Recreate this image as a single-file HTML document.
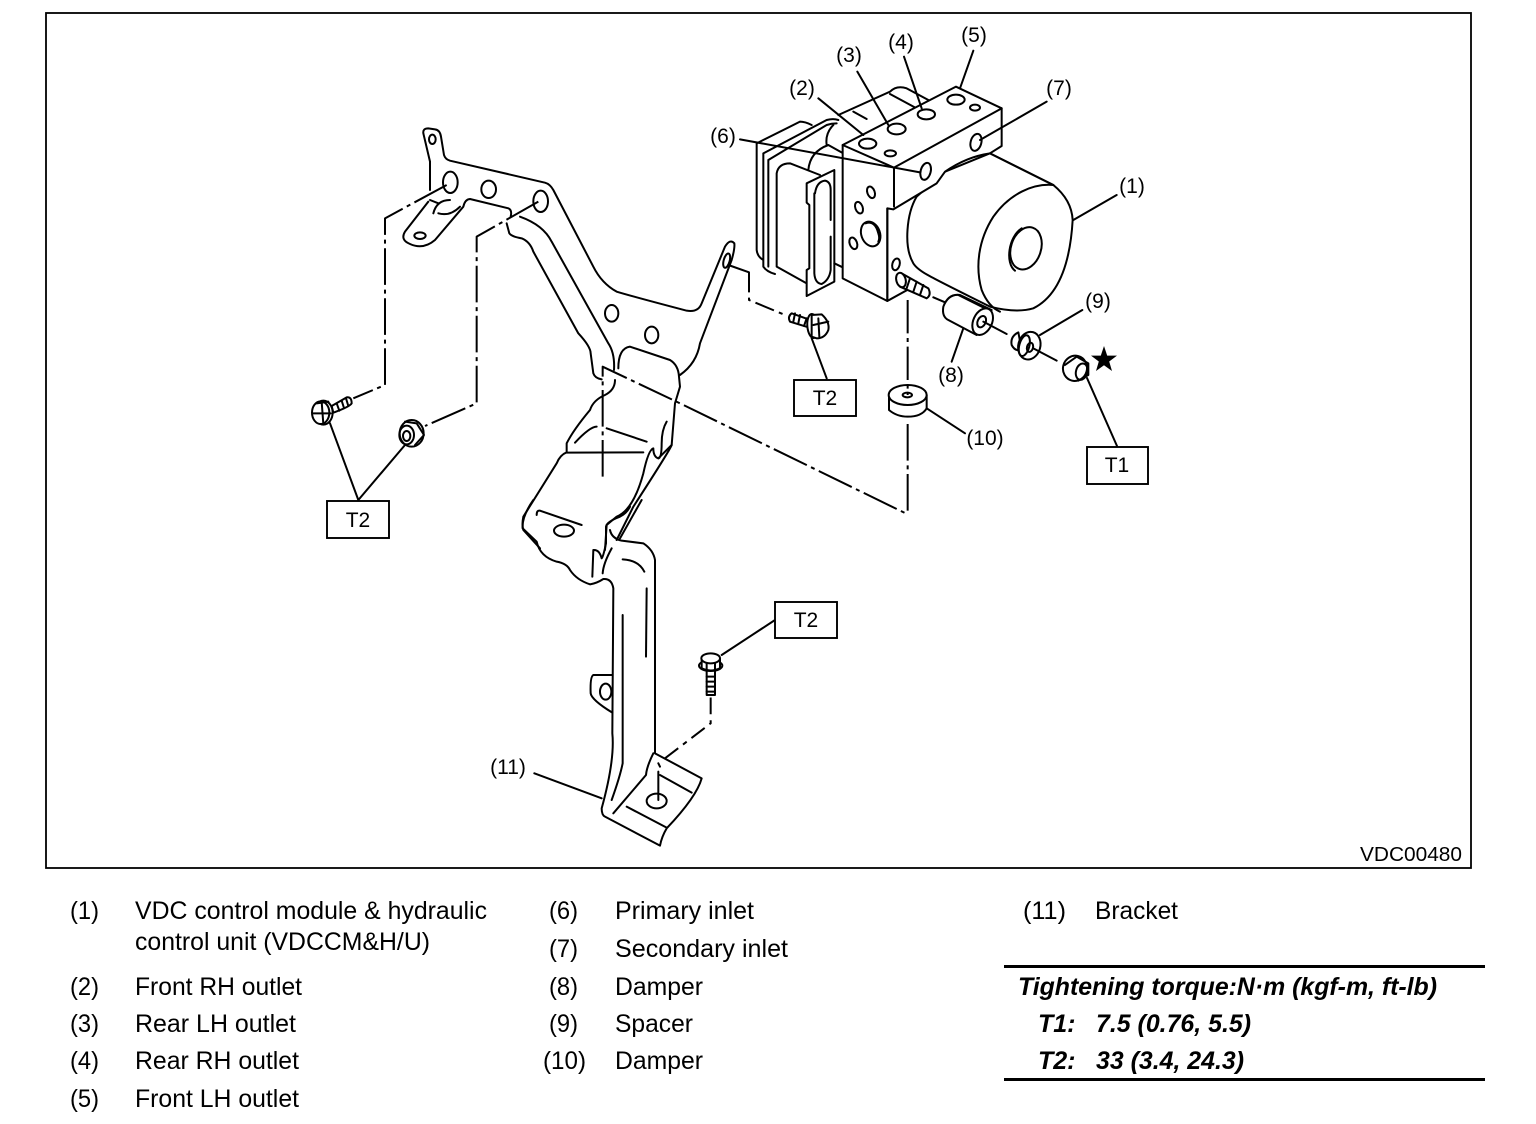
<!DOCTYPE html>
<html><head><meta charset="utf-8"><style>
html,body{margin:0;padding:0;background:#fff}
svg{display:block}
text{font-family:"Liberation Sans",sans-serif;fill:#000}
.l{font-size:21px}
.t{font-size:25px}
.b{font-size:25px;font-weight:bold;font-style:italic}
.d path,.d ellipse,.d line{fill:none;stroke:#000;stroke-width:6;stroke-linecap:round;stroke-linejoin:round}
.d .w{fill:#fff}
.d .da{stroke-dasharray:110 14 12 14;stroke-linecap:butt}
</style></head><body>
<svg width="1536" height="1124" viewBox="0 0 1536 1124" xmlns="http://www.w3.org/2000/svg">
<rect width="1536" height="1124" fill="#fff"/>
<rect x="46" y="13" width="1425" height="855" fill="none" stroke="#000" stroke-width="1.8"/>

<!-- bracket -->
<g class="d" transform="translate(300,120) scale(.33333)">
<path d="M390 125L370 40Q368 25 385 25L405 28Q420 30 423 50L432 105Q436 118 450 122L735 188Q750 192 760 210L880 440Q905 490 950 515Q1000 530 1160 572Q1195 578 1205 550L1275 380Q1290 355 1303 370Q1305 385 1295 420L1200 670Q1190 730 1140 765"/>
<path d="M390 125L390 210M385 245L315 335Q300 360 330 372Q370 390 405 360L490 260Q495 238 510 237L625 265Q637 270 632 290"/>
<path d="M620 310L628 340Q635 350 665 355Q690 365 700 395L835 640Q872 680 872 700L880 760Q885 775 905 778"/>
<path d="M660 290Q730 315 755 365L925 670Q945 700 942 750"/>
<path d="M955 745Q955 685 990 680L1110 720Q1135 735 1137 770L1140 800L1125 850L1115 975L1075 1015Q1060 1010 1060 985Q1045 990 1030 1060Q1000 1170 950 1190L920 1215L915 1290"/>
<path d="M945 780Q945 810 915 825Q880 840 870 870Q820 930 800 970L800 998L1030 997M800 997Q780 1005 770 1030L670 1190Q665 1215 670 1230L720 1285"/>
<path d="M825 968Q870 920 890 920M920 925L1040 965M1100 905Q1085 930 1085 970Q1085 1015 1075 1015M1115 975Q1110 990 1000 1160L950 1260"/>
<path d="M400 280Q410 240 450 240M415 280Q450 290 480 260M390 240L415 250"/>
<ellipse cx="451" cy="187" rx="22" ry="32"/><ellipse cx="566" cy="208" rx="22" ry="26"/><ellipse cx="722" cy="244" rx="22" ry="32"/>
<ellipse cx="360" cy="347" rx="17" ry="10"/><ellipse cx="397" cy="58" rx="10" ry="14"/>
<ellipse cx="935" cy="580" rx="20" ry="25"/><ellipse cx="1055" cy="645" rx="20" ry="25"/>
<ellipse cx="1280" cy="422" rx="9" ry="22" transform="rotate(15 1280 422)"/>
<path class="da" d="M440 195L255 295L255 795L160 835"/>
<path class="da" d="M715 245L530 350L530 850L375 918"/>
<path class="da" d="M908 1070L908 740L1140 850L1821 1182"/>
<!-- left bolt -->
<ellipse class="w" cx="70" cy="878" rx="28" ry="36"/><ellipse class="w" cx="62" cy="878" rx="26" ry="34"/>
<path d="M50 850L85 845M40 880L92 880M65 845L70 912"/>
<path class="w" d="M95 858L140 832Q155 830 155 850Q150 860 100 878Z"/>
<path d="M110 850L118 872M125 842L132 864M138 835L145 858"/>
<!-- nut -->
<ellipse class="w" cx="335" cy="940" rx="36" ry="40"/><ellipse cx="320" cy="945" rx="22" ry="28"/><ellipse cx="320" cy="948" rx="11" ry="15"/>
<path d="M315 905L350 910L372 945L345 975"/>
<path d="M90 910L175 1140L315 975"/>
</g>

<!-- lower bracket -->
<g class="d" transform="translate(480,500) scale(.33333)">
<path d="M128 85Q125 50 160 0M128 85L170 125Q180 170 230 185Q260 190 270 210Q290 240 330 253Q350 250 370 237Q395 235 400 265L397 700Q405 780 365 925Q365 945 375 950L540 1037Q545 1010 560 985Q650 890 665 835L525 760L525 180Q520 150 490 130L425 122Q395 115 390 90"/>
<path d="M378 80Q380 65 420 50Q440 40 450 20M420 115L485 0M378 80L378 130Q370 170 365 175Q358 148 340 150L337 230"/>
<path d="M395 145Q370 190 368 220M428 178Q475 180 493 215M500 265L498 470M428 345L428 790Q420 830 395 900"/>
<path d="M340 525Q330 530 332 580Q335 600 397 638M340 525L397 525"/>
<ellipse cx="377" cy="575" rx="17" ry="24"/>
<path d="M520 760Q500 800 498 825L400 940M540 825L635 878M440 920L560 983"/>
<ellipse cx="530" cy="903" rx="30" ry="22"/>
<path d="M535 815L535 900M535 790L540 800"/>
<path class="da" d="M555 775L692 670L692 590" style="stroke-dasharray:50 18 14 18"/>
<path d="M163 820L365 895M885 360L725 465"/>
<ellipse cx="252" cy="92" rx="30" ry="18"/>
<path d="M170 45Q170 30 180 32L305 75"/>
<!-- bolt -->
<path class="w" d="M680 510L680 585L705 585L705 510Z"/>
<path d="M680 530L705 530M680 545L705 545M680 560L705 560M680 575L705 575"/>
<ellipse class="w" cx="692" cy="497" rx="35" ry="16"/>
<path class="w" d="M665 475L665 505Q692 518 720 505L720 475Z"/>
<ellipse class="w" cx="692" cy="475" rx="28" ry="15"/>
<path d="M680 490L680 512M705 490L705 512"/>
</g>

<!-- module -->
<g class="d" transform="translate(700,20) scale(.33333)">
<!-- housing back -->
<path d="M415 285L570 215Q590 195 620 205L685 240M460 275L500 297M570 222L650 265M380 375Q375 340 400 315M325 450Q330 395 385 375L430 400"/>
<path d="M170 370L300 305Q315 305 335 315M170 370L170 690Q172 710 190 720M190 400L380 300Q400 295 415 300M190 400L190 740Q200 755 225 762M205 420L205 740M205 420L380 315Q395 310 410 310"/>
<path d="M230 460Q235 430 270 430L360 465M230 460L230 740L320 790"/>
<path class="w" d="M320 490L403 450L403 785L320 828L320 750L328 745L328 555L320 548Z"/>
<path d="M345 520Q350 485 375 482Q392 485 392 510L392 600M392 650L392 750Q388 780 365 792Q345 790 343 760L343 520"/>
<path d="M403 730L428 742"/>
<!-- cylinder -->
<path class="w" d="M650 530C620 580 610 680 640 730C655 755 690 770 870 860Q950 880 1000 865C1070 830 1110 740 1118 600Q1115 540 1060 495L870 400L735 455Z"/>
<path d="M1060 495C1000 490 930 520 880 590C835 660 825 740 845 810Q865 860 900 875"/>
<ellipse cx="978" cy="685" rx="45" ry="65" transform="rotate(18 978 685)"/>
<path d="M965 625C925 650 915 730 945 752"/>
<!-- block -->
<path class="w" d="M428 375L768 200L905 265L905 378L870 400Q800 410 735 455L710 490L580 568L562 565L562 843L428 775Z"/>
<path d="M428 375L582 443L905 265M582 443L582 560M562 843L640 800M562 565L562 843"/>
<ellipse cx="503" cy="371" rx="26" ry="15"/><ellipse cx="590" cy="327" rx="27" ry="16"/><ellipse cx="679" cy="283" rx="26" ry="15"/><ellipse cx="768" cy="239" rx="26" ry="15"/>
<ellipse cx="825" cy="263" rx="15" ry="9"/><ellipse cx="571" cy="400" rx="17" ry="9"/>
<ellipse cx="677" cy="454" rx="15" ry="26" transform="rotate(15 677 454)"/><ellipse cx="828" cy="367" rx="16" ry="26" transform="rotate(15 828 367)"/>
<ellipse cx="513" cy="517" rx="11" ry="18" transform="rotate(-20 513 517)"/><ellipse cx="477" cy="563" rx="11" ry="18" transform="rotate(-20 477 563)"/>
<ellipse cx="460" cy="670" rx="11" ry="18" transform="rotate(-20 460 670)"/><ellipse cx="588" cy="733" rx="11" ry="18" transform="rotate(15 588 733)"/>
<ellipse cx="512" cy="642" rx="28" ry="38" transform="rotate(-20 512 642)"/>
<path d="M497 610Q525 600 535 640Q540 655 535 665"/>
<!-- stud -->
<path class="w" d="M605 760L685 805Q695 825 680 835L600 800Z"/>
<ellipse class="w" cx="603" cy="780" rx="14" ry="22" transform="rotate(-15 603 780)"/>
<path d="M630 775L620 805M650 785L640 815M670 795L660 825"/>
<!-- damper 8 -->
<path class="w" d="M730 860Q745 820 780 825L875 870L830 945L745 900Q725 890 730 860Z"/>
<path d="M775 825L865 870"/>
<ellipse class="w" cx="848" cy="905" rx="28" ry="42" transform="rotate(25 848 905)"/>
<ellipse cx="845" cy="905" rx="12" ry="18" transform="rotate(25 845 905)"/>
<!-- spacer 9 -->
<path class="w" d="M955 937Q930 950 935 975Q945 995 965 990Z"/>
<ellipse class="w" cx="988" cy="977" rx="33" ry="42" transform="rotate(15 988 977)"/>
<ellipse cx="973" cy="977" rx="15" ry="32" transform="rotate(15 973 977)"/>
<ellipse cx="990" cy="982" rx="9" ry="14" transform="rotate(15 990 982)"/>
<!-- nut -->
<ellipse class="w" cx="1125" cy="1045" rx="36" ry="38" transform="rotate(15 1125 1045)"/>
<path d="M1095 1035L1130 1010L1165 1030L1165 1065L1135 1082"/>
<ellipse cx="1145" cy="1055" rx="17" ry="25" transform="rotate(15 1145 1055)"/>
<!-- bolt T2 -->
<path class="w" d="M275 880L345 905L335 925L270 905Q262 890 275 880Z"/>
<path d="M285 880L280 905M300 885L295 910M320 895L312 918"/>
<ellipse class="w" cx="338" cy="918" rx="16" ry="36" transform="rotate(-5 338 918)"/>
<path class="w" d="M335 885L365 883Q390 905 385 930Q375 955 350 955L335 950Z"/>
<path d="M340 915L385 905M355 895L358 950"/>
<!-- damper 10 -->
<path class="w" d="M567 1125L567 1170Q590 1190 623 1190Q665 1190 680 1165L680 1125Z"/>
<ellipse class="w" cx="623" cy="1125" rx="57" ry="30"/>
<ellipse cx="622" cy="1125" rx="14" ry="7"/>
<!-- centre lines -->
<path class="da" d="M623 840L623 1125" style="stroke-dasharray:100 14 12 14"/>
<path class="da" d="M623 1212L623 1480" style="stroke-dasharray:110 14 12 14"/>
<path d="M700 832L735 847M850 905L920 942M1000 985L1070 1022"/>
<path d="M85 735L147 757"/>
<path class="da" d="M147 757L147 840L255 885" style="stroke-dasharray:60 16 12 16"/>
<!-- leaders -->
<path d="M355 235L490 345M472 155L565 315M612 110L665 265M820 92L780 205M120 358L660 457M1040 245L840 360M1250 525L1120 600M755 1025L790 925M1147 870L1020 945M1161 1074L1251 1278M335 955L380 1075M680 1165L795 1240"/>
<path d="M870 400L1060 495"/>
</g>

<polygon points="1104,346 1107.2,355.6 1117,355.6 1109.2,361.5 1112,371 1104,365.2 1096,371 1098.8,361.5 1091,355.6 1100.8,355.6" fill="#000"/>

<!-- boxes -->
<g fill="#fff" stroke="#000" stroke-width="1.9">
<rect x="794" y="380" width="62" height="36"/>
<rect x="1087" y="447" width="61" height="37"/>
<rect x="327" y="501" width="62" height="37"/>
<rect x="775" y="602" width="62" height="36"/>
</g>
<g class="l" text-anchor="middle">
<text x="825" y="405">T2</text><text x="1117" y="472">T1</text><text x="358" y="527">T2</text><text x="806" y="627">T2</text>
<text x="1132" y="193">(1)</text><text x="802" y="95">(2)</text><text x="849" y="62">(3)</text><text x="901" y="49">(4)</text><text x="974" y="42">(5)</text>
<text x="723" y="143">(6)</text><text x="1059" y="95">(7)</text><text x="951" y="382">(8)</text><text x="1098" y="308">(9)</text><text x="985" y="445">(10)</text><text x="508" y="774">(11)</text>
</g>
<text x="1360" y="861" font-size="20" textLength="102" lengthAdjust="spacingAndGlyphs">VDC00480</text>

<!-- legend -->
<g class="t" lengthAdjust="spacingAndGlyphs">
<text x="70" y="919" textLength="29" lengthAdjust="spacingAndGlyphs">(1)</text><text x="135" y="919" textLength="352" lengthAdjust="spacingAndGlyphs">VDC control module &amp; hydraulic</text>
<text x="135" y="950" textLength="295" lengthAdjust="spacingAndGlyphs">control unit (VDCCM&amp;H/U)</text>
<text x="70" y="995" textLength="29" lengthAdjust="spacingAndGlyphs">(2)</text><text x="135" y="995" textLength="167" lengthAdjust="spacingAndGlyphs">Front RH outlet</text>
<text x="70" y="1032" textLength="29" lengthAdjust="spacingAndGlyphs">(3)</text><text x="135" y="1032" textLength="161" lengthAdjust="spacingAndGlyphs">Rear LH outlet</text>
<text x="70" y="1069" textLength="29" lengthAdjust="spacingAndGlyphs">(4)</text><text x="135" y="1069" textLength="164" lengthAdjust="spacingAndGlyphs">Rear RH outlet</text>
<text x="70" y="1107" textLength="29" lengthAdjust="spacingAndGlyphs">(5)</text><text x="135" y="1107" textLength="164" lengthAdjust="spacingAndGlyphs">Front LH outlet</text>
<text x="549" y="919" textLength="29" lengthAdjust="spacingAndGlyphs">(6)</text><text x="615" y="919" textLength="139" lengthAdjust="spacingAndGlyphs">Primary inlet</text>
<text x="549" y="957" textLength="29" lengthAdjust="spacingAndGlyphs">(7)</text><text x="615" y="957" textLength="173" lengthAdjust="spacingAndGlyphs">Secondary inlet</text>
<text x="549" y="995" textLength="29" lengthAdjust="spacingAndGlyphs">(8)</text><text x="615" y="995" textLength="88" lengthAdjust="spacingAndGlyphs">Damper</text>
<text x="549" y="1032" textLength="29" lengthAdjust="spacingAndGlyphs">(9)</text><text x="615" y="1032" textLength="78" lengthAdjust="spacingAndGlyphs">Spacer</text>
<text x="543" y="1069" textLength="43" lengthAdjust="spacingAndGlyphs">(10)</text><text x="615" y="1069" textLength="88" lengthAdjust="spacingAndGlyphs">Damper</text>
<text x="1023" y="919" textLength="43" lengthAdjust="spacingAndGlyphs">(11)</text><text x="1095" y="919" textLength="83" lengthAdjust="spacingAndGlyphs">Bracket</text>
</g>
<rect x="1004" y="965" width="481" height="3" fill="#000"/>
<rect x="1004" y="1078" width="481" height="3" fill="#000"/>
<g class="b">
<text x="1018" y="995" textLength="419" lengthAdjust="spacingAndGlyphs">Tightening torque:N·m (kgf-m, ft-lb)</text>
<text x="1038" y="1032">T1:</text><text x="1096" y="1032" textLength="155" lengthAdjust="spacingAndGlyphs">7.5 (0.76, 5.5)</text>
<text x="1038" y="1069">T2:</text><text x="1096" y="1069" textLength="148" lengthAdjust="spacingAndGlyphs">33 (3.4, 24.3)</text>
</g>
</svg>
</body></html>
